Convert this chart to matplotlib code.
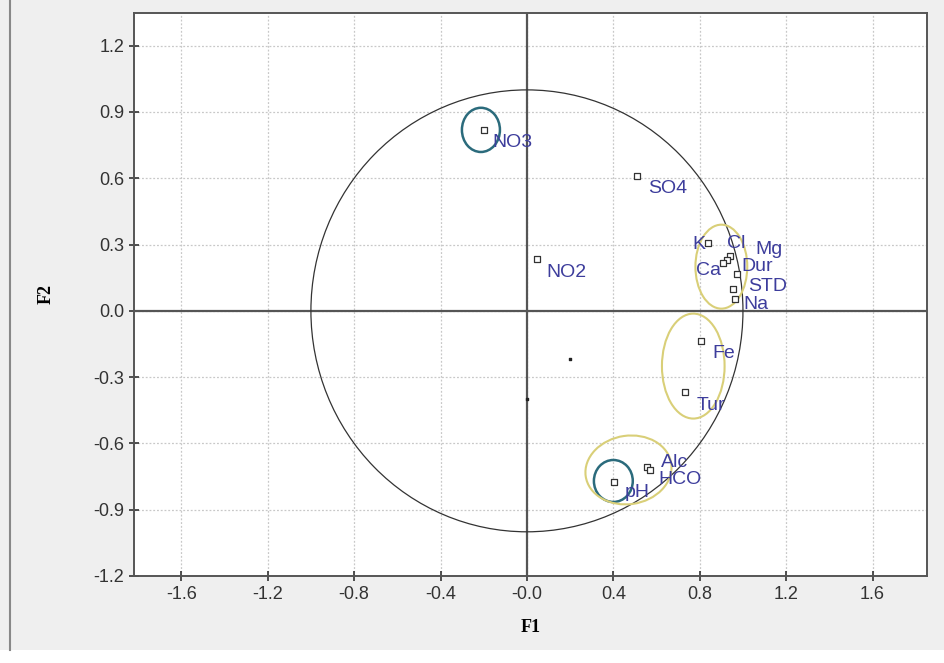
import matplotlib
matplotlib.use("Agg")
import matplotlib.pyplot as plt
from matplotlib.patches import Ellipse, Circle, Rectangle
from matplotlib.lines import Line2D
import numpy as np

# ---- data ----
variables = ["NO3", "SO4", "NO2", "K", "Cl", "Mg", "Ca", "Dur", "STD", "Na",
             "Fe", "Tur", "Alc", "HCO", "pH"]
f1 = [-0.199, 0.509, 0.046, 0.838, 0.940, 0.926, 0.907, 0.972, 0.954, 0.963,
      0.806, 0.731, 0.556, 0.570, 0.403]
f2 = [0.819, 0.611, 0.235, 0.308, 0.249, 0.231, 0.217, 0.167, 0.100, 0.054,
      -0.136, -0.367, -0.706, -0.720, -0.774]

extra_x = [0.20, 0.00]
extra_y = [-0.217, -0.40]

xticks = [-1.6, -1.2, -0.8, -0.4, 0.0, 0.4, 0.8, 1.2, 1.6]
xticklabels = ["-1.6", "-1.2", "-0.8", "-0.4", "-0.0", "0.4", "0.8", "1.2", "1.6"]
yticks = [-1.2, -0.9, -0.6, -0.3, 0.0, 0.3, 0.6, 0.9, 1.2]
yticklabels = ["-1.2", "-0.9", "-0.6", "-0.3", "0.0", "0.3", "0.6", "0.9", "1.2"]

# groups: (center x, center y, width, height, angle, kind)
group_cx = [-0.213, 0.40, 0.47, 0.77, 0.90]
group_cy = [0.819, -0.77, -0.72, -0.25, 0.20]
group_w = [0.176, 0.18, 0.40, 0.29, 0.24]
group_h = [0.20, 0.19, 0.31, 0.475, 0.38]
group_angle = [0, 0, 8, 0, 0]
group_kind = ["blue", "blue", "yellow", "yellow", "yellow"]

# label offsets in pixels (dx, dy) and alignment
label_off = {
    "NO3": (8, -13, "left"), "SO4": (11, -13, "left"), "NO2": (10, -14, "left"),
    "K": (-3, -2, "right"), "Cl": (-3, 12, "left"), "Mg": (28, 10, "left"),
    "Ca": (-27, -8, "left"), "Dur": (4, 7, "left"), "STD": (15, 2, "left"),
    "Na": (8, -6, "left"), "Fe": (11, -13, "left"), "Tur": (12, -14, "left"),
    "Alc": (14, 4, "left"), "HCO": (8, -10, "left"), "pH": (11, -11, "left"),
}

# ---- figure ----
W, H = 945, 663
fig = plt.figure(figsize=(W / 100, H / 100), dpi=100)
fig.patch.set_facecolor("#efefef")
# white strip at bottom & left window border
fig.add_artist(Rectangle((0, 0), 1, 13 / H, transform=fig.transFigure,
                         facecolor="white", edgecolor="none", zorder=0))
fig.add_artist(Line2D([10 / W, 10 / W], [13 / H, 1], transform=fig.transFigure,
                      color="#888888", lw=1.5))

ax = fig.add_axes([134 / W, 1 - 576 / H, (927 - 134) / W, (576 - 13) / H])
ax.set_facecolor("white")
ax.set_xlim(-1.819, 1.852)
ax.set_ylim(-1.199, 1.348)

ax.set_xticks(xticks)
ax.set_xticklabels(xticklabels)
ax.set_yticks(yticks)
ax.set_yticklabels(yticklabels)
ax.tick_params(direction="inout", length=7, width=1.2, color="#333333",
               labelsize=13, labelcolor="#333333")
for lab in ax.get_xticklabels() + ax.get_yticklabels():
    lab.set_family("Liberation Sans")
ax.grid(True, color="#c8c8c8", linestyle=(0, (1.5, 1.5)), lw=0.9)
ax.set_axisbelow(True)
for s in ax.spines.values():
    s.set_color("#555555")
    s.set_linewidth(1.4)

ax.axhline(0, color="#555555", lw=1.6, zorder=1)
ax.axvline(0, color="#555555", lw=1.6, zorder=1)

ax.add_patch(Circle((0, 0), 1.0, fill=False, ec="#333333", lw=0.9, zorder=2))

colors = {"blue": "#2b6b7c", "yellow": "#d9cf78"}
for cx, cy, w, h, a, k in zip(group_cx, group_cy, group_w, group_h,
                               group_angle, group_kind):
    ax.add_patch(Ellipse((cx, cy), w, h, angle=a, fill=False,
                         ec=colors[k], lw=1.8 if k == "blue" else 1.5, zorder=3))

ax.scatter(f1, f2, marker="s", s=14, facecolor="white", edgecolor="#333333",
           linewidths=0.9, zorder=4)
ax.scatter(extra_x, extra_y, marker="s", s=4, color="#222222", zorder=4)

for name, x, y in zip(variables, f1, f2):
    dx, dy, ha = label_off[name]
    ax.annotate(name, (x, y), xytext=(dx, dy), textcoords="offset pixels",
                ha=ha, va="center", fontsize=14, color="#3d3d9c",
                family="Liberation Sans", zorder=5)

ax.set_xlabel("F1", fontsize=13, fontweight="bold", family="Liberation Serif",
              labelpad=12)
ax.set_ylabel("F2", fontsize=13, fontweight="bold", family="Liberation Serif",
              labelpad=28)

fig.savefig("out.png", dpi=100, facecolor=fig.get_facecolor())
